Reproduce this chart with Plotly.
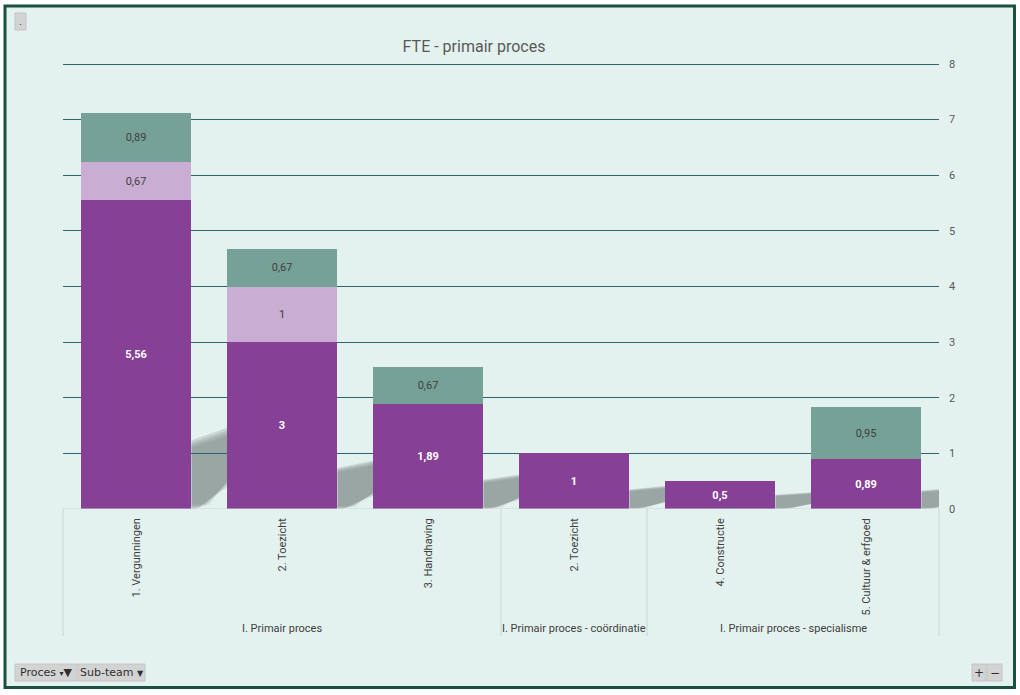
import plotly.graph_objects as go

# ---- data ----
groups = ["I. Primair proces", "I. Primair proces", "I. Primair proces",
          "I. Primair proces - coördinatie",
          "I. Primair proces - specialisme", "I. Primair proces - specialisme"]
categories = ["1. Vergunningen", "2. Toezicht", "3. Handhaving",
              "2. Toezicht", "4. Constructie", "5. Cultuur & erfgoed"]
series_a = [5.56, 3, 1.89, 1, 0.5, 0.89]      # dark purple
series_b = [0.67, 1, 0, 0, 0, 0]              # light purple
series_c = [0.89, 0.67, 0.67, 0, 0, 0.95]     # teal
y_ticks = [0, 1, 2, 3, 4, 5, 6, 7, 8]

W, H = 1020, 695
ML, MR, MT, MB = 63, 81, 61, 186
PW, PH = W - ML - MR, H - MT - MB
Y_TOP = 8 * PH / (H - MB - 64)   # so that 8 sits at pixel row 64, gridline not clipped
BG = "#E4F2EF"
FONT = "Roboto"


def px2x(px):
    return (px - ML) / PW


def px2y(py):
    return (H - MB - py) / PH


def fmt(v):
    if v == 0:
        return ""
    s = ("%.2f" % v).rstrip("0").rstrip(".")
    return s.replace(".", ",")


xs = list(range(len(categories)))
fig = go.Figure()
specs = [
    (series_a, "#864196", "white", True),
    (series_b, "#C9ADD2", "#404040", False),
    (series_c, "#76A196", "#404040", False),
]
for vals, col, tcol, bold in specs:
    fig.add_trace(go.Bar(
        x=xs, y=vals, marker=dict(color=col, line=dict(width=0)),
        text=[("<b>%s</b>" % fmt(v)) if bold and v else fmt(v) for v in vals],
        textposition="inside", insidetextanchor="middle",
        textfont=dict(color=tcol, size=11, family=FONT),
        hoverinfo="skip", showlegend=False, cliponaxis=True,
    ))

shapes = []
# page frame
shapes.append(dict(type="rect", xref="paper", yref="paper",
                   x0=px2x(5), x1=px2x(1014.5), y0=px2y(6), y1=px2y(687.5),
                   line=dict(color="#1B4F3F", width=3), fillcolor=BG, layer="below"))

# perspective shadows derived from bar heights (layered to fake a soft gradient)
half = 0.38
for i, h in enumerate(series_a):
    s = 0.22 * h + 0.18
    for k, op in enumerate([0.22, 0.2, 0.18, 0.16]):
        t = k * 0.06
        path = ("M %f,%f L %f,%f L %f,%f L %f,%f L %f,%f Z" % (
            i + half, t * s * 0.3, i + half, s * (0.88 - t * 0.5),
            i + 0.75, s * (1.12 - t * 0.6),
            i + 0.75, s * (0.45 + t * 1.2), i + 0.41 + t * 0.5, t * s * 0.3))
        shapes.append(dict(type="path", xref="x", yref="y", path=path,
                           fillcolor="rgba(100,110,108,%.2f)" % op,
                           line=dict(width=0), layer="below"))

# category box
box_bottom = px2y(636)
shapes.append(dict(type="line", xref="paper", yref="y", x0=0, x1=1, y0=0, y1=0,
                   line=dict(color="#C8D6D2", width=1), layer="above"))
n = len(categories)
bounds = [0]
for i in range(1, n):
    if groups[i] != groups[i - 1]:
        bounds.append(i)
bounds.append(n)
for b in bounds:
    xp = b / n
    shapes.append(dict(type="line", xref="paper", yref="paper", x0=xp, x1=xp,
                       y0=0, y1=box_bottom, line=dict(color="#C8D6D2", width=1)))

annotations = []
for a, b in zip(bounds[:-1], bounds[1:]):
    annotations.append(dict(xref="paper", yref="paper", x=(a + b) / 2 / n,
                            y=px2y(628), text=groups[a], showarrow=False,
                            font=dict(size=11, color="#404040", family=FONT),
                            xanchor="center", yanchor="middle"))

# buttons
def button(x0, x1, y0, y1, label, size=11):
    shapes.append(dict(type="rect", xref="paper", yref="paper",
                       x0=px2x(x0), x1=px2x(x1), y0=px2y(y1), y1=px2y(y0),
                       fillcolor="#D3D3D3", line=dict(color="#C4C4C4", width=1)))
    annotations.append(dict(xref="paper", yref="paper", x=px2x((x0 + x1) / 2),
                            y=px2y((y0 + y1) / 2), text=label, showarrow=False,
                            font=dict(size=size, color="#303030", family="DejaVu Sans"),
                            xanchor="center", yanchor="middle"))

button(15, 26, 13, 30, ".", 9)
button(15, 77, 664, 681, "Proces <span style='font-size:8px'>▾</span><b>▼</b>", 11)
button(78, 145, 664, 681, "Sub-team <span style='font-size:8px'>▼</span>", 11)
button(972, 986, 664, 681, "+", 12)
button(987, 1002, 664, 681, "−", 12)

fig.update_layout(
    width=W, height=H, autosize=False,
    margin=dict(l=ML, r=MR, t=MT, b=MB, pad=0),
    paper_bgcolor="white", plot_bgcolor="rgba(0,0,0,0)",
    barmode="stack", bargap=0.24, separators=",.",
    font=dict(family=FONT, color="#595959"),
    title=dict(text="FTE - primair proces", x=474 / W, xanchor="center",
               y=1 - 46 / H, yanchor="middle",
               font=dict(size=16, color="#595959", family=FONT)),
    xaxis=dict(range=[-0.5, n - 0.5], tickvals=xs, ticktext=categories,
               tickangle=-90, showgrid=False, zeroline=False, showline=False,
               ticks="", ticklabelstandoff=6,
               tickfont=dict(size=11, color="#404040", family=FONT), fixedrange=True),
    yaxis=dict(range=[0, Y_TOP], tickvals=y_ticks, side="right", showgrid=True,
               gridcolor="#2F6471", gridwidth=1, zeroline=False, showline=False,
               ticks="", ticklabelstandoff=9,
               tickfont=dict(size=11, color="#595959", family=FONT), fixedrange=True),
    shapes=shapes, annotations=annotations,
)

fig.write_html("out.html", config={"displayModeBar": False})
